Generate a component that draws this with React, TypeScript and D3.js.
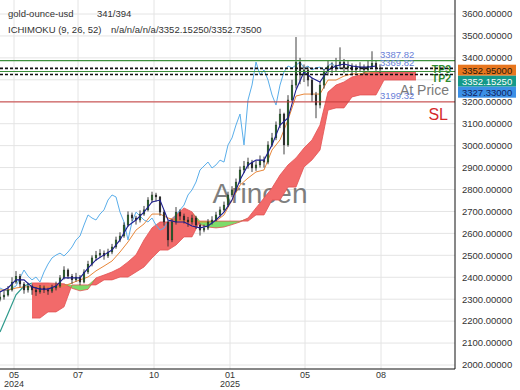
import { useEffect, useRef } from "react";
import * as d3 from "d3";

const W = 520;
const H = 390;

// candles (one sample per ~2.7 trading days)
const firstOpen = 2300;
const closes = [
  2310, 2319, 2342, 2378, 2405, 2369, 2342, 2360, 2342, 2333,
  2351, 2342, 2337, 2351, 2360, 2397, 2433, 2405, 2388, 2401,
  2378, 2424, 2460, 2488, 2501, 2510, 2497, 2515, 2538, 2570,
  2588, 2638, 2684, 2670, 2661, 2688, 2707, 2752, 2775, 2766,
  2697, 2652, 2570, 2652, 2697, 2679, 2661, 2652, 2670, 2638,
  2615, 2624, 2652, 2661, 2684, 2707, 2729, 2775, 2798, 2834,
  2889, 2907, 2925, 2898, 2912, 2934, 2925, 3003, 3035, 3094,
  3144, 3003, 3208, 3276, 3381, 3322, 3345, 3299, 3231, 3185,
  3276, 3336, 3363, 3354, 3367, 3381, 3354, 3363, 3345, 3354,
  3358, 3345, 3363, 3376, 3354, 3353,
];
const highs = [
  2335, 2340, 2360, 2400, 2428, 2415, 2378, 2375, 2368, 2355,
  2365, 2362, 2352, 2366, 2380, 2410, 2450, 2440, 2415, 2420,
  2410, 2436, 2475, 2500, 2520, 2528, 2522, 2530, 2552, 2585,
  2605, 2650, 2700, 2695, 2680, 2705, 2725, 2765, 2790, 2785,
  2770, 2705, 2660, 2665, 2720, 2710, 2690, 2675, 2685, 2680,
  2645, 2640, 2665, 2678, 2698, 2722, 2745, 2790, 2815, 2850,
  2905, 2930, 2945, 2935, 2930, 2955, 2950, 3020, 3058, 3110,
  3168, 3150, 3230, 3300, 3495, 3400, 3370, 3360, 3310, 3245,
  3290, 3350, 3390, 3380, 3400, 3448, 3395, 3385, 3375, 3370,
  3380, 3370, 3390, 3430, 3388, 3370,
];
const lows = [
  2290, 2298, 2312, 2335, 2370, 2355, 2325, 2330, 2320, 2315,
  2325, 2328, 2320, 2328, 2340, 2352, 2390, 2392, 2370, 2380,
  2364, 2372, 2415, 2450, 2475, 2490, 2480, 2488, 2505, 2530,
  2560, 2580, 2630, 2655, 2640, 2650, 2680, 2700, 2740, 2745,
  2680, 2635, 2540, 2560, 2640, 2660, 2645, 2630, 2640, 2620,
  2590, 2605, 2615, 2640, 2655, 2675, 2700, 2720, 2765, 2790,
  2825, 2875, 2895, 2880, 2885, 2900, 2900, 2915, 2995, 3025,
  3080, 2960, 2995, 3200, 3260, 3280, 3290, 3270, 3200, 3125,
  3170, 3260, 3320, 3330, 3340, 3350, 3330, 3335, 3320, 3330,
  3335, 3325, 3335, 3350, 3335, 3330,
];

// ichimoku lines, one value every 2nd sample
const tenkan = [
  2333, 2351, 2388, 2388, 2356, 2346, 2346, 2360, 2397, 2397,
  2397, 2442, 2479, 2502, 2524, 2570, 2634, 2661, 2697, 2743,
  2752, 2661, 2652, 2652, 2634, 2625, 2634, 2661, 2697, 2752,
  2843, 2912, 2934, 2934, 3003, 3094, 3126, 3254, 3336, 3308,
  3290, 3345, 3363, 3372, 3363, 3358, 3358, 3363,
];
const kijun = [
  2342, 2342, 2351, 2356, 2356, 2356, 2356, 2356, 2360, 2374,
  2388, 2401, 2429, 2451, 2474, 2515, 2561, 2615, 2643, 2688,
  2688, 2670, 2661, 2656, 2656, 2652, 2652, 2656, 2684, 2752,
  2820, 2852, 2880, 2889, 2980, 3026, 3117, 3226, 3235, 3235,
  3235, 3299, 3299, 3317, 3327, 3327, 3336, 3336,
];
const spanA = [
  2150, 2235, 2320, 2360, 2374, 2374, 2374, 2372, 2370, 2350,
  2338, 2345, 2397, 2410, 2424, 2442, 2470, 2502, 2570, 2625,
  2652, 2652, 2684, 2716, 2698, 2640, 2629, 2625, 2629, 2640,
  2652, 2670, 2716, 2761, 2807, 2866, 2912, 2944, 2989, 3026,
  3094, 3244, 3276, 3290, 3313, 3322, 3331, 3336, 3336, 3336,
  3336, 3336, 3336,
];
const spanB: (number | null)[] = [
  null, null, null, null, 2214, 2214, 2242, 2242, 2265, 2365,
  2365, 2365, 2365, 2388, 2388, 2401, 2401, 2424, 2447, 2488,
  2524, 2524, 2547, 2584, 2584, 2656, 2656, 2656, 2656, 2656,
  2656, 2656, 2684, 2684, 2752, 2752, 2811, 2811, 2903, 2935,
  2980, 3162, 3172, 3172, 3222, 3231, 3231, 3231, 3299, 3299,
  3299, 3299, 3299,
];
const CHIKOU_SHIFT = 10;

const yTicks = [2000, 2100, 2200, 2300, 2400, 2500, 2600, 2700, 2800, 2900, 3000, 3100, 3200, 3300, 3400, 3500, 3600];
const xTickIdx = [3.5, 19.5, 38.5, 57.5, 76.25, 95.25];
const xTickMonth = ["05", "07", "10", "01", "05", "08"];
const xTickYear = ["2024", "", "", "2025", "", ""];

const tpLevels = [3387.82, 3338];
const dashLevels = [3352, 3324];
const slLevel = 3199.32;
const noteValues = [3387.82, 3369.82, 3199.32];
const tpNames = ["TP3", "TP2"];
const boxValues = [3352.95, 3352.1525, 3327.33];
const boxColors = ["#e8761e", "#14998a", "#3b8fe6"];
const boxText = ["#2a1a0a", "#ffffff", "#10205a"];

const FONT = "'Liberation Sans', Arial, sans-serif";

export default function App() {
  const ref = useRef<SVGSVGElement>(null);

  useEffect(() => {
    if (!ref.current) return;
    const svg = d3.select(ref.current);
    svg.selectAll("*").remove();

    const plotR = 455;
    const plotB = 369;
    const x = d3.scaleLinear().domain([0, 113.75]).range([0, plotR]);
    const y = d3.scaleLinear().domain([2000, 3600]).range([365, 14]);

    svg.append("rect").attr("width", W).attr("height", H).attr("fill", "#fff");
    svg.append("defs").append("clipPath").attr("id", "plotclip")
      .append("rect").attr("width", plotR).attr("height", plotB);

    const g = svg.append("g").attr("clip-path", "url(#plotclip)");

    // grid
    g.selectAll(".hg").data(yTicks).join("line")
      .attr("x1", 0).attr("x2", plotR)
      .attr("y1", (d) => y(d)).attr("y2", (d) => y(d))
      .attr("stroke", "#e4e4e4").attr("stroke-width", 1);
    g.selectAll(".vg").data(xTickIdx).join("line")
      .attr("x1", (d) => x(d)).attr("x2", (d) => x(d))
      .attr("y1", 0).attr("y2", plotB)
      .attr("stroke", "#e4e4e4").attr("stroke-width", 1);

    // watermark
    g.append("text").attr("x", 260).attr("y", 203).attr("text-anchor", "middle")
      .style("font-family", FONT).style("font-size", "28px")
      .attr("fill", "#555").attr("opacity", 0.75).text("Arincen");

    // cloud
    const cloud = spanA.map((a, k) => ({ i: k * 2, a, b: spanB[k] }));
    const full = cloud.filter((d) => d.b != null) as { i: number; a: number; b: number }[];
    const red = d3.area<{ i: number; a: number; b: number }>()
      .x((d) => x(d.i)).y0((d) => y(d.b)).y1((d) => y(Math.max(d.a, d.b)));
    const green = d3.area<{ i: number; a: number; b: number }>()
      .x((d) => x(d.i)).y0((d) => y(d.a)).y1((d) => y(Math.max(d.a, d.b)));
    g.append("path").attr("d", red(full)).attr("fill", "#f26a6a");
    g.append("path").attr("d", green(full)).attr("fill", "#7ddc6a");
    const ln = d3.line<{ i: number; v: number }>().x((d) => x(d.i)).y((d) => y(d.v));
    g.append("path").attr("d", ln(full.map((d) => ({ i: d.i, v: d.a }))))
      .attr("fill", "none").attr("stroke", "#e25050").attr("stroke-width", 0.8);
    g.append("path").attr("d", ln(full.map((d) => ({ i: d.i, v: d.b }))))
      .attr("fill", "none").attr("stroke", "#e25050").attr("stroke-width", 0.8);
    g.append("path").attr("d", ln(cloud.slice(0, 5).map((d) => ({ i: d.i, v: d.a }))))
      .attr("fill", "none").attr("stroke", "#2f9a8c").attr("stroke-width", 1.2);

    // chikou
    const chikou = closes.slice(CHIKOU_SHIFT).map((v, i) => ({ i, v }));
    g.append("path").attr("d", ln(chikou))
      .attr("fill", "none").attr("stroke", "#5aaeea").attr("stroke-width", 1);

    // kijun
    g.append("path").attr("d", ln(kijun.map((v, k) => ({ i: k * 2, v }))))
      .attr("fill", "none").attr("stroke", "#e8873a").attr("stroke-width", 1);

    // candles
    const candles = closes.map((c, i) => ({
      i, o: i === 0 ? firstOpen : closes[i - 1], c, h: highs[i], l: lows[i],
    }));
    g.selectAll(".wick").data(candles).join("line")
      .attr("x1", (d) => x(d.i)).attr("x2", (d) => x(d.i))
      .attr("y1", (d) => y(d.h)).attr("y2", (d) => y(d.l))
      .attr("stroke", "#2a2a2a").attr("stroke-width", 0.9);
    g.selectAll(".body").data(candles).join("rect")
      .attr("x", (d) => x(d.i) - 0.9).attr("width", 1.8)
      .attr("y", (d) => y(Math.max(d.o, d.c)))
      .attr("height", (d) => Math.max(1, Math.abs(y(d.o) - y(d.c))))
      .attr("fill", (d) => (d.c >= d.o ? "#2b6b2e" : "#2a2a2a"))
      .attr("stroke", "#1e1e1e").attr("stroke-width", 0.3);

    // tenkan
    g.append("path").attr("d", ln(tenkan.map((v, k) => ({ i: k * 2, v }))))
      .attr("fill", "none").attr("stroke", "#1d1d8f").attr("stroke-width", 1.1);

    // trade labels
    g.append("text").attr("x", 449).attr("y", 95).attr("text-anchor", "end")
      .style("font-family", FONT).style("font-size", "14px").attr("fill", "#7a7a7a").text("At Price");
    g.append("text").attr("x", 448).attr("y", 120).attr("text-anchor", "end")
      .style("font-family", FONT).style("font-size", "16px").attr("fill", "#d42a2a").text("SL");
    tpNames.forEach((t, k) => {
      g.append("text").attr("x", 451).attr("y", 73 + k * 9).attr("text-anchor", "end")
        .style("font-family", FONT).style("font-size", "10.5px").style("font-weight", "bold")
        .attr("fill", "#2e8b2e").text(t);
    });

    // level lines
    g.selectAll(".tp").data(tpLevels).join("line")
      .attr("x1", 0).attr("x2", plotR).attr("y1", (d) => y(d)).attr("y2", (d) => y(d))
      .attr("stroke", "#3c8f3c").attr("stroke-width", 1.2);
    g.selectAll(".dl").data(dashLevels).join("line")
      .attr("x1", 0).attr("x2", plotR).attr("y1", (d) => y(d)).attr("y2", (d) => y(d))
      .attr("stroke", "#111").attr("stroke-width", 1.6).attr("stroke-dasharray", "3,2");
    g.append("line").attr("x1", 0).attr("x2", plotR).attr("y1", y(slLevel)).attr("y2", y(slLevel))
      .attr("stroke", "#c83a3a").attr("stroke-width", 1);

    // level notes, pushed apart so they do not sit on top of each other
    let prevNote = -Infinity;
    noteValues.forEach((v) => {
      const ty = Math.max(y(v) - 3, prevNote + 8);
      prevNote = ty;
      g.append("text").attr("x", 380).attr("y", ty)
        .style("font-family", FONT).style("font-size", "9.5px")
        .attr("fill", "#6a7fd8").text(v.toFixed(2));
    });

    // axes frame
    svg.append("line").attr("x1", plotR).attr("x2", plotR).attr("y1", 0).attr("y2", plotB)
      .attr("stroke", "#111").attr("stroke-width", 1);
    svg.append("line").attr("x1", 0).attr("x2", plotR).attr("y1", plotB).attr("y2", plotB)
      .attr("stroke", "#111").attr("stroke-width", 1);

    svg.selectAll(".yl").data(yTicks).join("text")
      .attr("x", 462).attr("y", (d) => y(d)).attr("dy", "0.35em")
      .style("font-family", FONT).style("font-size", "9.5px").attr("fill", "#333")
      .text((d) => d.toFixed(5));

    // last value boxes, stacked to avoid overlap
    let prev = -Infinity;
    boxValues.forEach((v, k) => {
      const cy = Math.max(y(v) + 2, prev + 11);
      prev = cy;
      svg.append("rect").attr("x", 458).attr("y", cy - 5.5).attr("width", 58).attr("height", 11)
        .attr("fill", boxColors[k]);
      svg.append("text").attr("x", 462).attr("y", cy).attr("dy", "0.35em")
        .style("font-family", FONT).style("font-size", "9.5px").attr("fill", boxText[k])
        .text(v.toFixed(5));
    });

    xTickIdx.forEach((t, k) => {
      svg.append("text").attr("x", x(t)).attr("y", 378).attr("text-anchor", "middle")
        .style("font-family", FONT).style("font-size", "9px").attr("fill", "#333").text(xTickMonth[k]);
      if (xTickYear[k]) {
        svg.append("text").attr("x", x(t)).attr("y", 387).attr("text-anchor", "middle")
          .style("font-family", FONT).style("font-size", "9px").attr("fill", "#333").text(xTickYear[k]);
      }
    });

    // header
    const hdr = (tx: number, ty: number, s: string) =>
      svg.append("text").attr("x", tx).attr("y", ty)
        .style("font-family", FONT).style("font-size", "9.5px").attr("fill", "#333").text(s);
    hdr(8, 17, "gold-ounce-usd");
    hdr(97, 17, "341/394");
    hdr(8, 33, "ICHIMOKU (9, 26, 52)");
    hdr(111, 33, "n/a/n/a/n/a/3352.15250/3352.73500");
  }, []);

  return (
    <svg
      ref={ref}
      width={W}
      height={H}
      style={{ position: "absolute", left: 0, top: 0, display: "block" }}
    />
  );
}
